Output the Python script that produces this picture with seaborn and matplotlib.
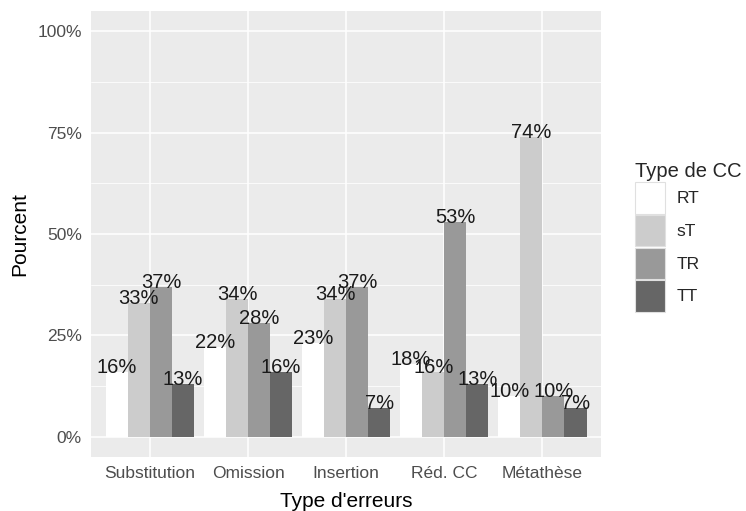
import pandas as pd
import matplotlib
matplotlib.use("Agg")
import matplotlib.pyplot as plt
import seaborn as sns

categories = ["Substitution", "Omission", "Insertion", "Réd. CC", "Métathèse"]
types = ["RT", "sT", "TR", "TT"]
rt = [16, 22, 23, 18, 10]
st = [33, 34, 34, 16, 74]
tr = [37, 28, 37, 53, 10]
tt = [13, 16, 7, 13, 7]

rows = []
for name, vals in zip(types, [rt, st, tr, tt]):
    for cat, v in zip(categories, vals):
        rows.append({"Type d'erreurs": cat, "Type de CC": name, "Pourcent": v})
df = pd.DataFrame(rows)

palette = {"RT": "#FFFFFF", "sT": "#CCCCCC", "TR": "#999999", "TT": "#666666"}

sns.set_style("darkgrid", {"axes.facecolor": "#EBEBEB", "grid.color": "white"})
plt.rcParams["font.family"] = ["Liberation Sans", "DejaVu Sans"]

fig = plt.figure(figsize=(7.46, 5.11), dpi=100)
ax = fig.add_axes([0.122, 0.106, 0.684, 0.872])

sns.barplot(data=df, x="Type d'erreurs", y="Pourcent", hue="Type de CC",
            hue_order=types, order=categories, palette=palette, saturation=1,
            width=0.9, linewidth=0, ax=ax)

for c in ax.containers:
    ax.bar_label(c, fmt="{:.0f}%", padding=-3.5, fontsize=14.5, color="#1a1a1a")

ax.set_ylim(-5, 105)
ax.set_xlim(-0.6, 4.6)
ax.set_yticks([0, 25, 50, 75, 100])
ax.set_yticklabels(["0%", "25%", "50%", "75%", "100%"])
ax.set_yticks([12.5, 37.5, 62.5, 87.5], minor=True)
ax.grid(which="major", color="white", linewidth=1.1)
ax.grid(which="minor", axis="y", color="white", linewidth=0.55)
ax.set_axisbelow(True)
for s in ax.spines.values():
    s.set_visible(False)

ax.tick_params(axis="both", which="major", length=4, width=1, color="#333333",
               labelsize=12.5, labelcolor="#4D4D4D", pad=2.5)
ax.tick_params(axis="both", which="minor", length=0)
ax.set_xlabel("Type d'erreurs", fontsize=15, color="black", labelpad=8)
ax.set_ylabel("Pourcent", fontsize=15, color="black", labelpad=6)

sns.move_legend(ax, "upper left", bbox_to_anchor=(1.067, 0.662), frameon=False,
                title="Type de CC", title_fontsize=14.5, fontsize=12.5,
                alignment="left", borderpad=0, borderaxespad=0,
                handlelength=1.73, handleheight=2.4, labelspacing=0.08,
                handletextpad=0.63)
for h in ax.get_legend().legend_handles:
    h.set_edgecolor("#E0E0E0")
    h.set_linewidth(0.8)

fig.savefig("out.png", dpi=100)
